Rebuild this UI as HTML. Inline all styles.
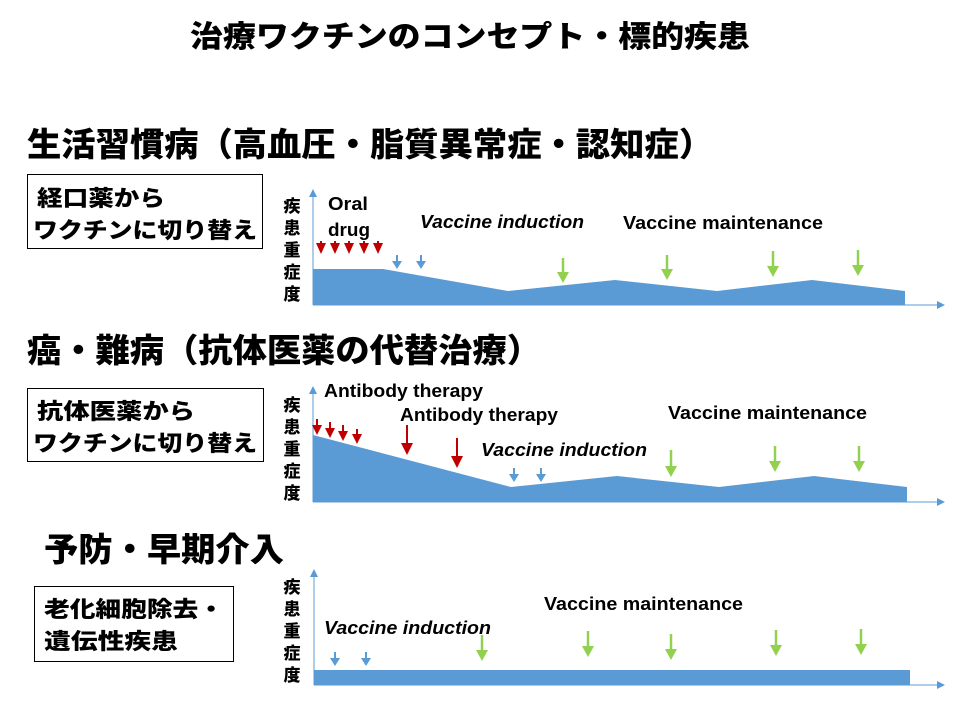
<!DOCTYPE html>
<html><head><meta charset="utf-8"><style>
body{margin:0;background:#fff}
svg{display:block}
text{font-family:"Liberation Sans","Noto Sans CJK JP",sans-serif;font-weight:bold;fill:#000}
.jp{font-family:"Noto Sans CJK JP","WenQuanYi Zen Hei",sans-serif;font-weight:900}
</style></head><body>
<svg width="960" height="720" viewBox="0 0 960 720" xmlns="http://www.w3.org/2000/svg">
<defs>
<marker id="ax" markerWidth="8" markerHeight="8" refX="7" refY="4" orient="auto" markerUnits="userSpaceOnUse"><path d="M0,0 L8,4 L0,8 z" fill="#5b9bd5"/></marker>
</defs>
<!-- titles -->
<text class="jp" x="190" y="47" font-size="30" textLength="560" lengthAdjust="spacingAndGlyphs">治療ワクチンのコンセプト・標的疾患</text>
<text class="jp" x="27" y="156" font-size="33" textLength="686" lengthAdjust="spacingAndGlyphs">生活習慣病（高血圧・脂質異常症・認知症）</text>
<text class="jp" x="27" y="362" font-size="33" textLength="514" lengthAdjust="spacingAndGlyphs">癌・難病（抗体医薬の代替治療）</text>
<text class="jp" x="44" y="561" font-size="33" textLength="240" lengthAdjust="spacingAndGlyphs">予防・早期介入</text>
<!-- boxes -->
<rect x="27.5" y="174.5" width="235" height="74" fill="none" stroke="#000" stroke-width="1"/>
<text class="jp" x="37" y="206" font-size="22" textLength="128" lengthAdjust="spacingAndGlyphs">経口薬から</text>
<text class="jp" x="33" y="238" font-size="22" textLength="224" lengthAdjust="spacingAndGlyphs">ワクチンに切り替え</text>
<rect x="27.5" y="388.5" width="236" height="73" fill="none" stroke="#000" stroke-width="1"/>
<text class="jp" x="37" y="419" font-size="22" textLength="158" lengthAdjust="spacingAndGlyphs">抗体医薬から</text>
<text class="jp" x="33" y="451" font-size="22" textLength="224" lengthAdjust="spacingAndGlyphs">ワクチンに切り替え</text>
<rect x="34.5" y="586.5" width="199" height="75" fill="none" stroke="#000" stroke-width="1"/>
<text class="jp" x="44" y="617" font-size="22" textLength="180" lengthAdjust="spacingAndGlyphs">老化細胞除去・</text>
<text class="jp" x="44" y="649" font-size="22" textLength="134" lengthAdjust="spacingAndGlyphs">遺伝性疾患</text>
<!-- y labels -->
<g class="jp" font-size="17" text-anchor="middle">
<text class="jp" x="292" y="212">疾</text><text class="jp" x="292" y="234">患</text><text class="jp" x="292" y="256">重</text><text class="jp" x="292" y="278">症</text><text class="jp" x="292" y="300">度</text>
<text class="jp" x="292" y="411">疾</text><text class="jp" x="292" y="433">患</text><text class="jp" x="292" y="455">重</text><text class="jp" x="292" y="477">症</text><text class="jp" x="292" y="499">度</text>
<text class="jp" x="292" y="593">疾</text><text class="jp" x="292" y="615">患</text><text class="jp" x="292" y="637">重</text><text class="jp" x="292" y="659">症</text><text class="jp" x="292" y="681">度</text>
</g>
<!-- chart 1 -->
<polygon points="313,269 383,269 508,291 615,280 717,291 812,280 905,291 905,305 313,305" fill="#5b9bd5"/>
<line x1="313" y1="305" x2="313" y2="190" stroke="#5b9bd5" marker-end="url(#ax)"/>
<line x1="313" y1="305" x2="944" y2="305" stroke="#5b9bd5" marker-end="url(#ax)"/>
<!-- chart 2 -->
<polygon points="313,435 511,487 617,476 719,487 814,476 907,487 907,502 313,502" fill="#5b9bd5"/>
<line x1="313" y1="502" x2="313" y2="387" stroke="#5b9bd5" marker-end="url(#ax)"/>
<line x1="313" y1="502" x2="944" y2="502" stroke="#5b9bd5" marker-end="url(#ax)"/>
<!-- chart 3 -->
<rect x="314" y="670" width="596" height="15" fill="#5b9bd5"/>
<line x1="314" y1="685" x2="314" y2="570" stroke="#5b9bd5" marker-end="url(#ax)"/>
<line x1="314" y1="685" x2="944" y2="685" stroke="#5b9bd5" marker-end="url(#ax)"/>
<!-- arrows: red small -->
<g fill="#c00000">
<path d="M316,243 h10 l-5,11 z"/><path d="M330,243 h10 l-5,11 z"/><path d="M344,243 h10 l-5,11 z"/><path d="M359,243 h10 l-5,11 z"/><path d="M373,243 h10 l-5,11 z"/>
</g>
<g stroke="#c00000" stroke-width="2">
<line x1="321" y1="241" x2="321" y2="246"/><line x1="335" y1="241" x2="335" y2="246"/><line x1="349" y1="241" x2="349" y2="246"/><line x1="364" y1="241" x2="364" y2="246"/><line x1="378" y1="241" x2="378" y2="246"/>
<line x1="317" y1="419" x2="317" y2="428"/><line x1="330" y1="422" x2="330" y2="431"/><line x1="343" y1="425" x2="343" y2="434"/><line x1="357" y1="429" x2="357" y2="437"/>
<line x1="407" y1="425" x2="407" y2="446"/><line x1="457" y1="438" x2="457" y2="459"/>
</g>
<g fill="#c00000">
<path d="M312,425 h10 l-5,10 z"/><path d="M325,428 h10 l-5,10 z"/><path d="M338,431 h10 l-5,10 z"/><path d="M352,434 h10 l-5,10 z"/>
<path d="M401,443 h12 l-6,12 z"/><path d="M451,456 h12 l-6,12 z"/>
</g>
<!-- blue arrows -->
<g stroke="#5b9bd5" stroke-width="2">
<line x1="397" y1="255" x2="397" y2="262"/><line x1="421" y1="255" x2="421" y2="262"/>
<line x1="514" y1="468" x2="514" y2="475"/><line x1="541" y1="468" x2="541" y2="475"/>
<line x1="335" y1="652" x2="335" y2="659"/><line x1="366" y1="652" x2="366" y2="659"/>
</g>
<g fill="#5b9bd5">
<path d="M392,261 h10 l-5,8 z"/><path d="M416,261 h10 l-5,8 z"/>
<path d="M509,474 h10 l-5,8 z"/><path d="M536,474 h10 l-5,8 z"/>
<path d="M330,658 h10 l-5,8 z"/><path d="M361,658 h10 l-5,8 z"/>
</g>
<!-- green arrows -->
<g stroke="#92d050" stroke-width="2.5">
<line x1="563" y1="258" x2="563" y2="276"/><line x1="667" y1="255" x2="667" y2="273"/><line x1="773" y1="251" x2="773" y2="270"/><line x1="858" y1="250" x2="858" y2="269"/>
<line x1="671" y1="450" x2="671" y2="470"/><line x1="775" y1="446" x2="775" y2="465"/><line x1="859" y1="446" x2="859" y2="465"/>
<line x1="482" y1="635" x2="482" y2="654"/><line x1="588" y1="631" x2="588" y2="650"/><line x1="671" y1="634" x2="671" y2="653"/><line x1="776" y1="630" x2="776" y2="649"/><line x1="861" y1="629" x2="861" y2="648"/>
</g>
<g fill="#92d050">
<path d="M557,272 h12 l-6,11 z"/><path d="M661,269 h12 l-6,11 z"/><path d="M767,266 h12 l-6,11 z"/><path d="M852,265 h12 l-6,11 z"/>
<path d="M665,466 h12 l-6,11 z"/><path d="M769,461 h12 l-6,11 z"/><path d="M853,461 h12 l-6,11 z"/>
<path d="M476,650 h12 l-6,11 z"/><path d="M582,646 h12 l-6,11 z"/><path d="M665,649 h12 l-6,11 z"/><path d="M770,645 h12 l-6,11 z"/><path d="M855,644 h12 l-6,11 z"/>
</g>
<!-- chart labels -->
<g font-size="18">
<text x="328" y="210" textLength="40" lengthAdjust="spacingAndGlyphs">Oral</text>
<text x="328" y="236" textLength="42" lengthAdjust="spacingAndGlyphs">drug</text>
<text x="420" y="228" font-style="italic" textLength="164" lengthAdjust="spacingAndGlyphs">Vaccine induction</text>
<text x="623" y="229" textLength="200" lengthAdjust="spacingAndGlyphs">Vaccine maintenance</text>
<text x="324" y="397" textLength="159" lengthAdjust="spacingAndGlyphs">Antibody therapy</text>
<text x="400" y="421" textLength="158" lengthAdjust="spacingAndGlyphs">Antibody therapy</text>
<text x="481" y="456" font-style="italic" textLength="166" lengthAdjust="spacingAndGlyphs">Vaccine induction</text>
<text x="668" y="419" textLength="199" lengthAdjust="spacingAndGlyphs">Vaccine maintenance</text>
<text x="324" y="634" font-style="italic" textLength="167" lengthAdjust="spacingAndGlyphs">Vaccine induction</text>
<text x="544" y="610" textLength="199" lengthAdjust="spacingAndGlyphs">Vaccine maintenance</text>
</g>
</svg>
</body></html>
